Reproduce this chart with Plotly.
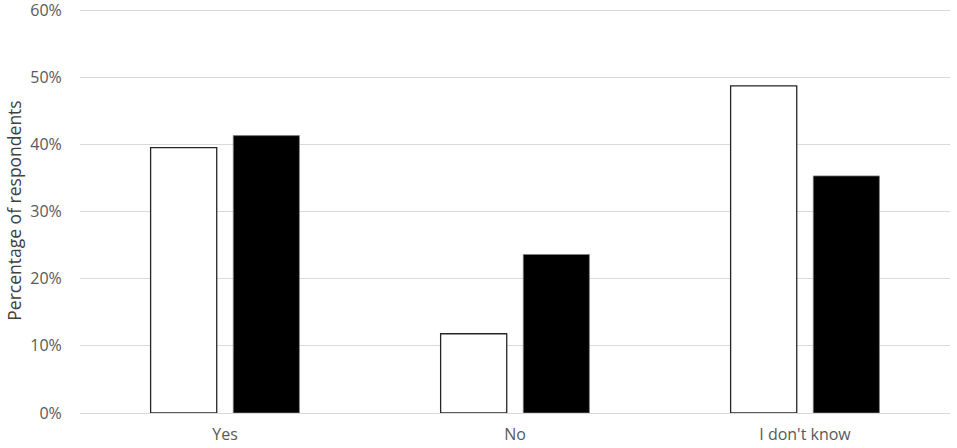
import plotly.graph_objects as go

categories = ["Yes", "No", "I don't know"]
series1_values = [39.5, 11.8, 48.7]
series2_values = [41.3, 23.6, 35.3]
series_names = ["Series 1", "Series 2"]
y_tick_values = [0, 10, 20, 30, 40, 50, 60]
y_tick_labels = ["0%", "10%", "20%", "30%", "40%", "50%", "60%"]

font_family = "Open Sans, Noto Sans, sans-serif"
text_color = "#595959"
grid_color = "#d9d9d9"

fig = go.Figure()
fig.add_trace(go.Bar(
    x=categories, y=series1_values, name=series_names[0],
    marker=dict(color="white", line=dict(color="#262626", width=1.3)),
))
fig.add_trace(go.Bar(
    x=categories, y=series2_values, name=series_names[1],
    marker=dict(color="black", line=dict(color="#7f7f7f", width=0.8)),
))

fig.update_layout(
    width=957, height=448,
    margin=dict(l=80, r=7, t=8, b=35),
    paper_bgcolor="white", plot_bgcolor="white",
    barmode="group", bargap=0.43, bargroupgap=0.2,
    showlegend=False,
    font=dict(family=font_family, size=16, color=text_color),
)
fig.update_xaxes(
    showgrid=False, showline=False, zeroline=False,
    ticks="outside", ticklen=7, tickcolor="rgba(0,0,0,0)",
    tickfont=dict(size=16, color=text_color),
    automargin=False,
)
fig.update_yaxes(
    range=[0, 60.3], tickvals=y_tick_values, ticktext=y_tick_labels,
    showgrid=True, gridcolor=grid_color, gridwidth=1.3,
    zeroline=True, zerolinecolor=grid_color, zerolinewidth=1.3,
    showline=False,
    ticks="outside", ticklen=14, tickcolor="rgba(0,0,0,0)",
    tickfont=dict(size=16, color=text_color),
    ticklabeloverflow="allow",
    automargin=False,
    title=dict(text="Percentage of respondents", standoff=4,
               font=dict(size=17.5, color="#404040")),
)

fig.write_html(
    "out.html",
    config={"displayModeBar": False},
    post_script="document.body.style.margin='0';document.body.style.padding='0';",
)
